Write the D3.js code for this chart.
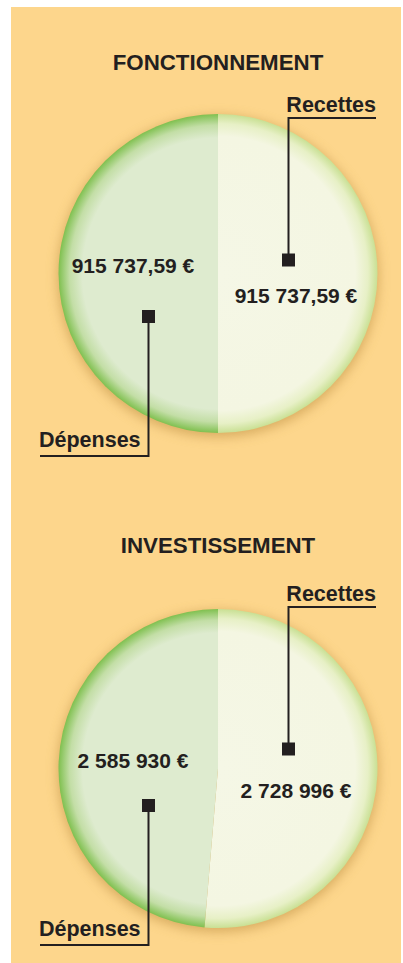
<!DOCTYPE html>
<html>
<head>
<meta charset="utf-8">
<script src="https://cdn.jsdelivr.net/npm/d3@7"></script>
<style>
  body { margin: 0; background: #fff; }
</style>
</head>
<body>
<div id="chart"></div>
<script>
// budget data
const sections = ["FONCTIONNEMENT", "INVESTISSEMENT"];
const categories = ["Recettes", "Dépenses"];
const recettes = [915737.59, 2728996];
const depenses = [915737.59, 2585930];

const width = 403, height = 963;
const radius = 159.5;

// panel layout
const panels = [
    { cx: 218, cy: 273.5, titleY: 70, shift: 0 },
    { cx: 218, cy: 768.5, titleY: 553, shift: -6 }
];

const fr = d3.formatLocale({ decimal: ",", thousands: "\u00a0", grouping: [3], currency: ["", "\u00a0€"] });
const fmt = v => (v % 1 ? fr.format(",.2f")(v) : fr.format(",d")(v)) + "\u00a0€";

const svg = d3.select("#chart")
    .append("svg")
    .attr("width", width)
    .attr("height", height)
    .attr("font-family", "'Liberation Sans', Arial, sans-serif")
    .attr("font-weight", "bold");

const defs = svg.append("defs");

const shadow = defs.append("filter")
    .attr("id", "shadow")
    .attr("x", "-20%").attr("y", "-20%")
    .attr("width", "140%").attr("height", "140%");
shadow.append("feGaussianBlur").attr("stdDeviation", 6);

const gradDep = defs.append("radialGradient")
    .attr("id", "g-dep")
    .attr("gradientUnits", "userSpaceOnUse")
    .attr("cx", 0).attr("cy", 0).attr("r", radius);
[[0, "#deebcf"], [0.85, "#deebcf"], [0.93, "#c3dea6"], [1, "#7fc04f"]].forEach(s =>
    gradDep.append("stop").attr("offset", s[0]).attr("stop-color", s[1]));

const gradRec = defs.append("radialGradient")
    .attr("id", "g-rec")
    .attr("gradientUnits", "userSpaceOnUse")
    .attr("cx", 0).attr("cy", 0).attr("r", radius);
[[0, "#f5f7e6"], [0.86, "#f4f6e2"], [0.94, "#e7f0c6"], [1, "#c9e094"]].forEach(s =>
    gradRec.append("stop").attr("offset", s[0]).attr("stop-color", s[1]));

// background
svg.append("rect")
    .attr("x", 11).attr("y", 7)
    .attr("width", 390).attr("height", height - 7)
    .attr("fill", "#fdd68c");

const pie = d3.pie().sort(null).value(d => d.value);
const arc = d3.arc().innerRadius(0).outerRadius(radius);
const ink = "#231f20";

sections.forEach((title, i) => {
    const p = panels[i];
    const data = [
        { key: categories[0], value: recettes[i] },
        { key: categories[1], value: depenses[i] }
    ];
    const arcs = pie(data);

    svg.append("text")
        .attr("x", p.cx)
        .attr("y", p.titleY)
        .attr("text-anchor", "middle")
        .attr("font-size", 22.3)
        .attr("fill", ink)
        .text(title);

    const g = svg.append("g")
        .attr("transform", `translate(${p.cx},${p.cy})`);

    g.append("circle")
        .attr("cy", 3)
        .attr("r", radius + 1)
        .attr("fill", "#b98a3c")
        .attr("opacity", 0.55)
        .attr("filter", "url(#shadow)");

    g.selectAll("path.slice")
        .data(arcs)
        .enter().append("path")
        .attr("class", "slice")
        .attr("d", arc)
        .attr("fill", d => d.data.key === "Recettes" ? "url(#g-rec)" : "url(#g-dep)");

    const s = p.shift;

    // Recettes leader
    const rec = g.append("g");
    rec.append("path")
        .attr("d", `M${70.5},${-13.5 + s}V${-155.5 + s}H${158}`)
        .attr("fill", "none")
        .attr("stroke", ink)
        .attr("stroke-width", 2);
    rec.append("rect")
        .attr("x", 64).attr("y", -20 + s)
        .attr("width", 13).attr("height", 13)
        .attr("fill", ink);
    rec.append("text")
        .attr("x", 158).attr("y", -161.5 + s)
        .attr("text-anchor", "end")
        .attr("font-size", 21.5)
        .attr("fill", ink)
        .text(categories[0]);

    // Dépenses leader
    const dep = g.append("g");
    dep.append("path")
        .attr("d", `M${-69.5},${43 + s}V${182.5 + s}H${-178}`)
        .attr("fill", "none")
        .attr("stroke", ink)
        .attr("stroke-width", 2);
    dep.append("rect")
        .attr("x", -76).attr("y", 36.5 + s)
        .attr("width", 13).attr("height", 13)
        .attr("fill", ink);
    dep.append("text")
        .attr("x", -179).attr("y", 173.5 + s)
        .attr("font-size", 21.5)
        .attr("fill", ink)
        .text(categories[1]);

    // values
    g.append("text")
        .attr("x", 78).attr("y", 29.5)
        .attr("text-anchor", "middle")
        .attr("font-size", 21)
        .attr("fill", ink)
        .text(fmt(recettes[i]));
    g.append("text")
        .attr("x", -85).attr("y", -0.5)
        .attr("text-anchor", "middle")
        .attr("font-size", 21)
        .attr("fill", ink)
        .text(fmt(depenses[i]));
});
</script>
</body>
</html>
